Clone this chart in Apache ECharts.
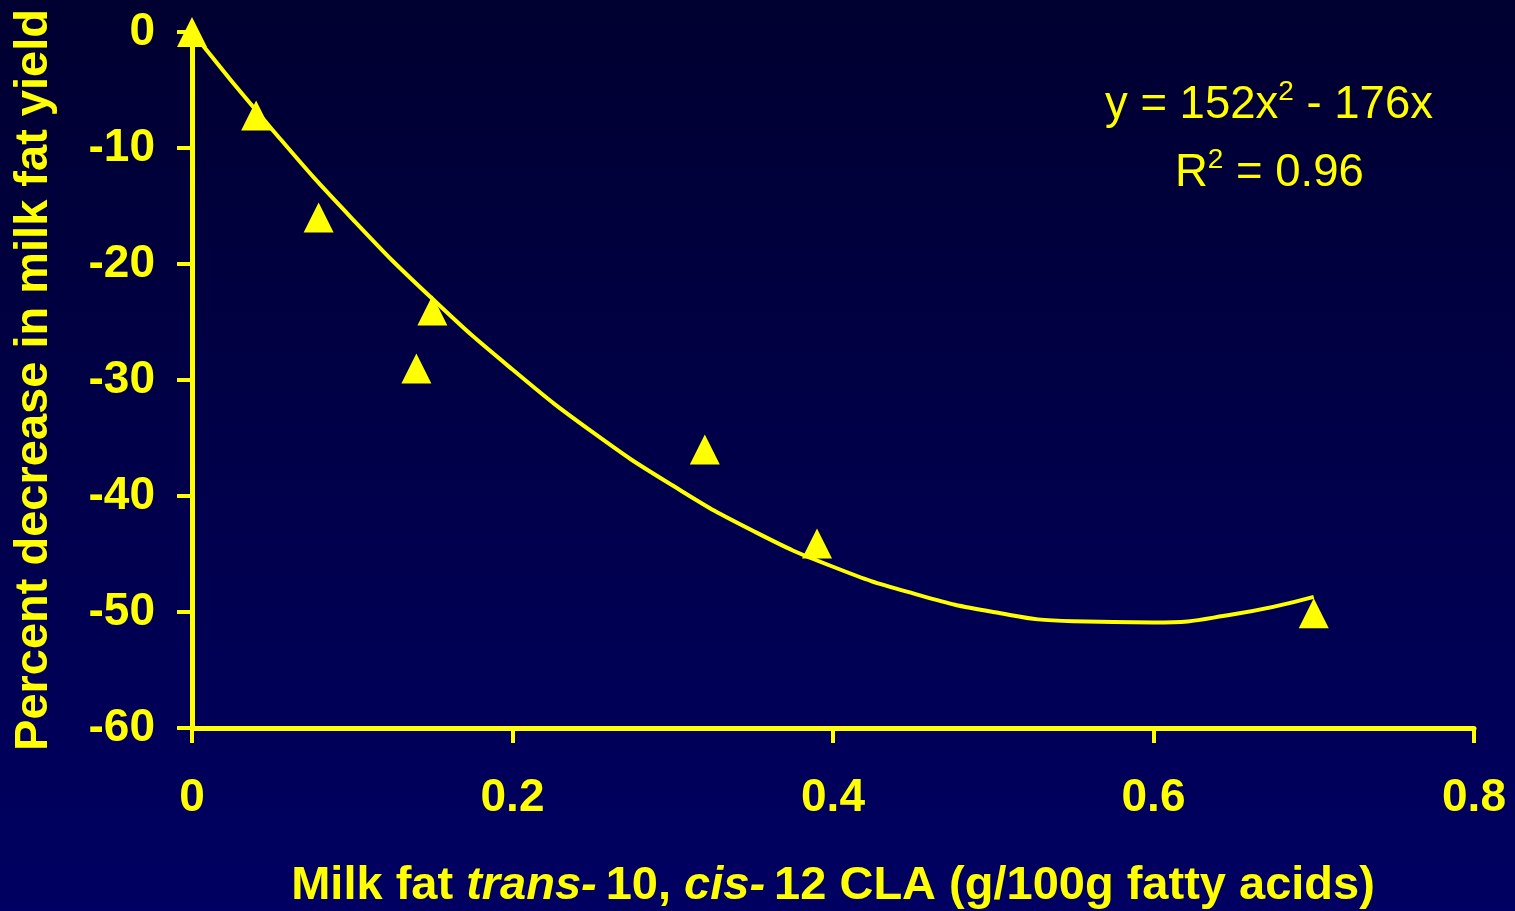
<!DOCTYPE html>
<html>
<head>
<meta charset="utf-8">
<script src="https://cdn.jsdelivr.net/npm/echarts@6/dist/echarts.min.js"></script>
<style>
html,body{margin:0;padding:0;background:#000040;}
#c{width:1515px;height:911px;}
</style>
</head>
<body>
<div id="c"></div>
<script>
// Observed data points (x: milk fat t10,c12 CLA; y: % decrease in milk fat yield)
const pointX = [0, 0.04, 0.079, 0.14, 0.15, 0.32, 0.39, 0.70];
const pointY = [0, -7.2, -16, -29, -24, -36, -44.1, -50.1];
// Trend curve
const curveX = [0, 0.05, 0.1, 0.15, 0.2, 0.25, 0.3, 0.35, 0.4, 0.45, 0.5, 0.55, 0.6, 0.65, 0.7];
const curveY = [0, -8.4, -16.1, -23.0, -29.1, -34.5, -39.1, -43.0, -46.1, -48.4, -50.0, -50.8, -50.9, -50.2, -48.7];
const xTicks = [0, 0.2, 0.4, 0.6, 0.8];
const yTicks = [0, -10, -20, -30, -40, -50, -60];

const YEL = '#FFFF00';
const FONT = '"Liberation Sans", Arial, sans-serif';

const chart = echarts.init(document.getElementById('c'));
chart.setOption({
  backgroundColor: {
    type: 'linear', x: 0, y: 0, x2: 0, y2: 1,
    colorStops: [{offset: 0, color: '#000030'}, {offset: 1, color: '#000062'}]
  },
  animation: false,
  grid: {left: 192, right: 41, top: 32, bottom: 183, containLabel: false, outerBoundsMode: 'none'},
  xAxis: {
    type: 'value', min: xTicks[0], max: xTicks[xTicks.length - 1], interval: 0.2,
    axisLine: {show: true, onZero: false, lineStyle: {color: YEL, width: 5}},
    axisTick: {show: true, length: 15, lineStyle: {color: YEL, width: 4}},
    splitLine: {show: false},
    axisLabel: {color: YEL, fontSize: 46, fontWeight: 'bold', fontFamily: FONT, margin: 47},
    name: '{n|Milk fat }{i|trans-}{n|10, }{i|cis-}{n|12 CLA (g/100g fatty acids)}',
    nameLocation: 'middle', nameGap: 135,
    nameTextStyle: {
      rich: {
        n: {color: YEL, fontSize: 47, fontWeight: 'bold', fontFamily: FONT},
        i: {color: YEL, fontSize: 47, fontWeight: 'bold', fontStyle: 'italic', fontFamily: FONT, padding: [0, 9, 0, 0]}
      }
    }
  },
  yAxis: {
    type: 'value', min: yTicks[yTicks.length - 1], max: yTicks[0], interval: 10,
    axisLine: {show: true, onZero: false, lineStyle: {color: YEL, width: 5}},
    axisTick: {show: true, length: 15, lineStyle: {color: YEL, width: 4}},
    splitLine: {show: false},
    axisLabel: {color: YEL, fontSize: 46, fontWeight: 'bold', fontFamily: FONT, margin: 37},
    name: 'Percent decrease in milk fat yield',
    nameLocation: 'middle', nameGap: 134, nameRotate: 90,
    nameTextStyle: {color: YEL, fontSize: 47, fontWeight: 'bold', fontFamily: FONT}
  },
  series: [
    {
      type: 'line', smooth: true, showSymbol: false, symbol: 'none',
      data: curveX.map((x, i) => [x, curveY[i]]),
      lineStyle: {color: YEL, width: 4}, z: 2
    },
    {
      type: 'scatter', symbol: 'triangle', symbolSize: [30, 30], clip: false,
      data: pointX.map((x, i) => [x, pointY[i]]),
      itemStyle: {color: YEL, opacity: 1}, z: 3
    }
  ],
  graphic: [
    {
      type: 'text', left: 1105, top: 78,
      style: {
        text: '{a|y = 152x}{s|2}{a| - 176x}',
        rich: {
          a: {fill: YEL, fontSize: 45.5, fontFamily: FONT, lineHeight: 50, verticalAlign: 'bottom'},
          s: {fill: YEL, fontSize: 28, fontFamily: FONT, lineHeight: 50, verticalAlign: 'top', padding: [0, 0, 22, 0]}
        }
      }
    },
    {
      type: 'text', left: 1175, top: 146,
      style: {
        text: '{a|R}{s|2}{a| = 0.96}',
        rich: {
          a: {fill: YEL, fontSize: 45.5, fontFamily: FONT, lineHeight: 50, verticalAlign: 'bottom'},
          s: {fill: YEL, fontSize: 28, fontFamily: FONT, lineHeight: 50, verticalAlign: 'top', padding: [0, 0, 22, 0]}
        }
      }
    }
  ]
});
</script>
</body>
</html>
